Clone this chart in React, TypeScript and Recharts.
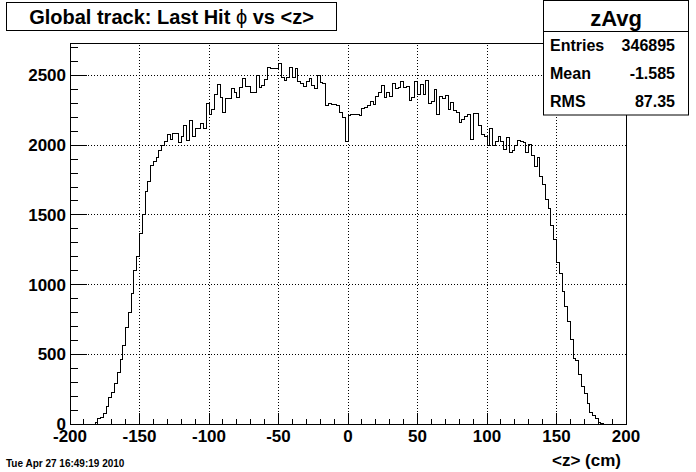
import React from "react"
import { LineChart, Line, XAxis, YAxis, ReferenceLine, ReferenceArea } from "recharts"

// histogram zAvg: 200 bins of 2 cm from -200 to 200
const binLow = -200
const binWidth = 2
const counts = [
  0, 0, 0, 0, 0, 0, 0, 0, 0, 12,
  36, 50, 72, 122, 187, 227, 287, 369, 461, 562,
  695, 798, 935, 1099, 1202, 1370, 1503, 1671, 1743, 1856,
  1880, 1909, 1964, 2000, 2024, 2077, 2043, 2082, 2082, 2017,
  2060, 2140, 2031, 2180, 2060, 2118, 2118, 2157, 2118, 2300,
  2222, 2258, 2360, 2433, 2342, 2234, 2337, 2337, 2407, 2378,
  2342, 2414, 2481, 2421, 2421, 2378, 2378, 2500, 2414, 2426,
  2474, 2557, 2548, 2548, 2548, 2584, 2488, 2464, 2488, 2557,
  2488, 2548, 2457, 2445, 2421, 2457, 2481, 2426, 2409, 2500,
  2450, 2440, 2285, 2297, 2294, 2290, 2282, 2234, 2201, 2026,
  2211, 2220, 2223, 2223, 2215, 2266, 2273, 2282, 2313, 2290,
  2349, 2378, 2428, 2342, 2380, 2349, 2445, 2409, 2412, 2457,
  2414, 2421, 2318, 2342, 2457, 2366, 2438, 2366, 2464, 2301,
  2313, 2397, 2222, 2349, 2337, 2354, 2253, 2306, 2249, 2234,
  2162, 2186, 2205, 2222, 2040, 2225, 2225, 2144, 2080, 2060,
  2000, 2120, 2000, 2024, 2060, 2024, 1971, 2053, 1945, 1964,
  1995, 2031, 2024, 2019, 1945, 2005, 1928, 1844, 1909, 1772,
  1721, 1611, 1543, 1423, 1327, 1160, 1078, 950, 840, 734,
  608, 472, 455, 352, 268, 218, 150, 85, 60, 36,
  12, 5, 0, 0, 0, 0, 0, 0, 0, 0,
]

const xMajor = [-200, -150, -100, -50, 0, 50, 100, 150, 200]
const yMajor = [0, 500, 1000, 1500, 2000, 2500]
const yMax = 2733

const title = "Global track: Last Hit "
const statsName = "zAvg"
const statsRows = [
  ["Entries", "346895"],
  ["Mean", "-1.585"],
  ["RMS", "87.35"],
]
const dateText = "Tue Apr 27 16:49:19 2010"
const xTitle = "<z> (cm)"

// minor ticks every 10 on x and every 100 on y
const xTicks: number[] = []
for (let v = -200; v <= 200; v += 10) xTicks.push(v)
const yTicks: number[] = []
for (let v = 0; v <= 2700; v += 100) yTicks.push(v)

const data = counts.map((n, i) => ({ x: binLow + i * binWidth, n }))
data.push({ x: binLow + counts.length * binWidth, n: counts[counts.length - 1] })

const font = "'Liberation Sans', Arial, Helvetica, sans-serif"

function XTick(props: any) {
  const { x, y, payload } = props
  const v = payload.value
  const major = v % 50 === 0
  return (
    <g>
      <line x1={x} x2={x} y1={y} y2={y - (major ? 11 : 5)} stroke="#000" strokeWidth={1} shapeRendering="crispEdges" />
      {major && (
        <text x={x} y={y + 17.5} textAnchor="middle" fontFamily={font} fontWeight="bold" fontSize={17} fill="#000">
          {v}
        </text>
      )}
    </g>
  )
}

function YTick(props: any) {
  const { x, y, payload } = props
  const v = payload.value
  const major = v % 500 === 0
  return (
    <g>
      <line x1={x} x2={x + (major ? 17 : 8)} y1={y} y2={y} stroke="#000" strokeWidth={1} shapeRendering="crispEdges" />
      {major && (
        <text x={x - 4} y={y + 6} textAnchor="end" fontFamily={font} fontWeight="bold" fontSize={17} fill="#000">
          {v}
        </text>
      )}
    </g>
  )
}

export default function App() {
  return (
    <div style={{ position: "relative", width: 696, height: 472, background: "#fff" }}>
      <style>{`body{margin:0}`}</style>
      <LineChart width={696} height={472} data={data} margin={{ top: 43, right: 70, bottom: 0, left: 0 }}>
        <XAxis
          dataKey="x"
          type="number"
          domain={[-200, 200]}
          ticks={xTicks}
          interval={0}
          height={48}
          axisLine={false}
          tickLine={false}
          tickSize={0}
          tickMargin={0}
          tick={XTick}
        />
        <YAxis
          type="number"
          domain={[0, yMax]}
          allowDataOverflow
          ticks={yTicks}
          interval={0}
          width={70}
          axisLine={false}
          tickLine={false}
          tickSize={0}
          tickMargin={0}
          tick={YTick}
        />
        {xMajor.slice(1, -1).map((v) => (
          <ReferenceLine key={"gx" + v} x={v} stroke="#000" strokeWidth={1} strokeDasharray="1 2" shapeRendering="crispEdges" />
        ))}
        {yMajor.slice(1).map((v) => (
          <ReferenceLine key={"gy" + v} y={v} stroke="#000" strokeWidth={1} strokeDasharray="1 2" shapeRendering="crispEdges" />
        ))}
        <ReferenceArea
          x1={-200}
          x2={200}
          y1={0}
          y2={yMax}
          fill="none"
          stroke="#000"
          strokeWidth={1}
          fillOpacity={0}
          shapeRendering="crispEdges"
        />
        <Line
          type="stepAfter"
          dataKey="n"
          stroke="#000"
          strokeWidth={1}
          dot={false}
          activeDot={false}
          shapeRendering="crispEdges"
          isAnimationActive={false}
        />
      </LineChart>
      <svg
        width={696}
        height={472}
        style={{ position: "absolute", left: 0, top: 0, pointerEvents: "none" }}
        fontFamily={font}
      >
        <rect x={6.5} y={2.5} width={330} height={28} fill="#fff" stroke="#000" />
        <text x={171.5} y={24} textAnchor="middle" fontSize={20} fontWeight="bold" fill="#000">
          {title}
          <tspan fontWeight="normal">ϕ</tspan>
          <tspan> vs &lt;z&gt;</tspan>
        </text>
        <rect x={543.5} y={0.5} width={145} height={114.5} fill="#fff" stroke="#000" />
        <line x1={543.5} x2={688.5} y1={31.5} y2={31.5} stroke="#000" />
        <text x={616} y={26} textAnchor="middle" fontSize={22} fontWeight="bold" fill="#000">
          {statsName}
        </text>
        {statsRows.map((r, i) => (
          <g key={r[0]}>
            <text x={550} y={51 + i * 28.2} fontSize={16} fontWeight="bold" fill="#000">
              {r[0]}
            </text>
            <text x={675} y={51 + i * 28.2} textAnchor="end" fontSize={16} fontWeight="bold" fill="#000">
              {r[1]}
            </text>
          </g>
        ))}
        <text x={6} y={467} fontSize={10} fontWeight="bold" fill="#000">
          {dateText}
        </text>
        <text x={621} y={466} textAnchor="end" fontSize={17} fontWeight="bold" fill="#000">
          {xTitle}
        </text>
      </svg>
    </div>
  )
}
